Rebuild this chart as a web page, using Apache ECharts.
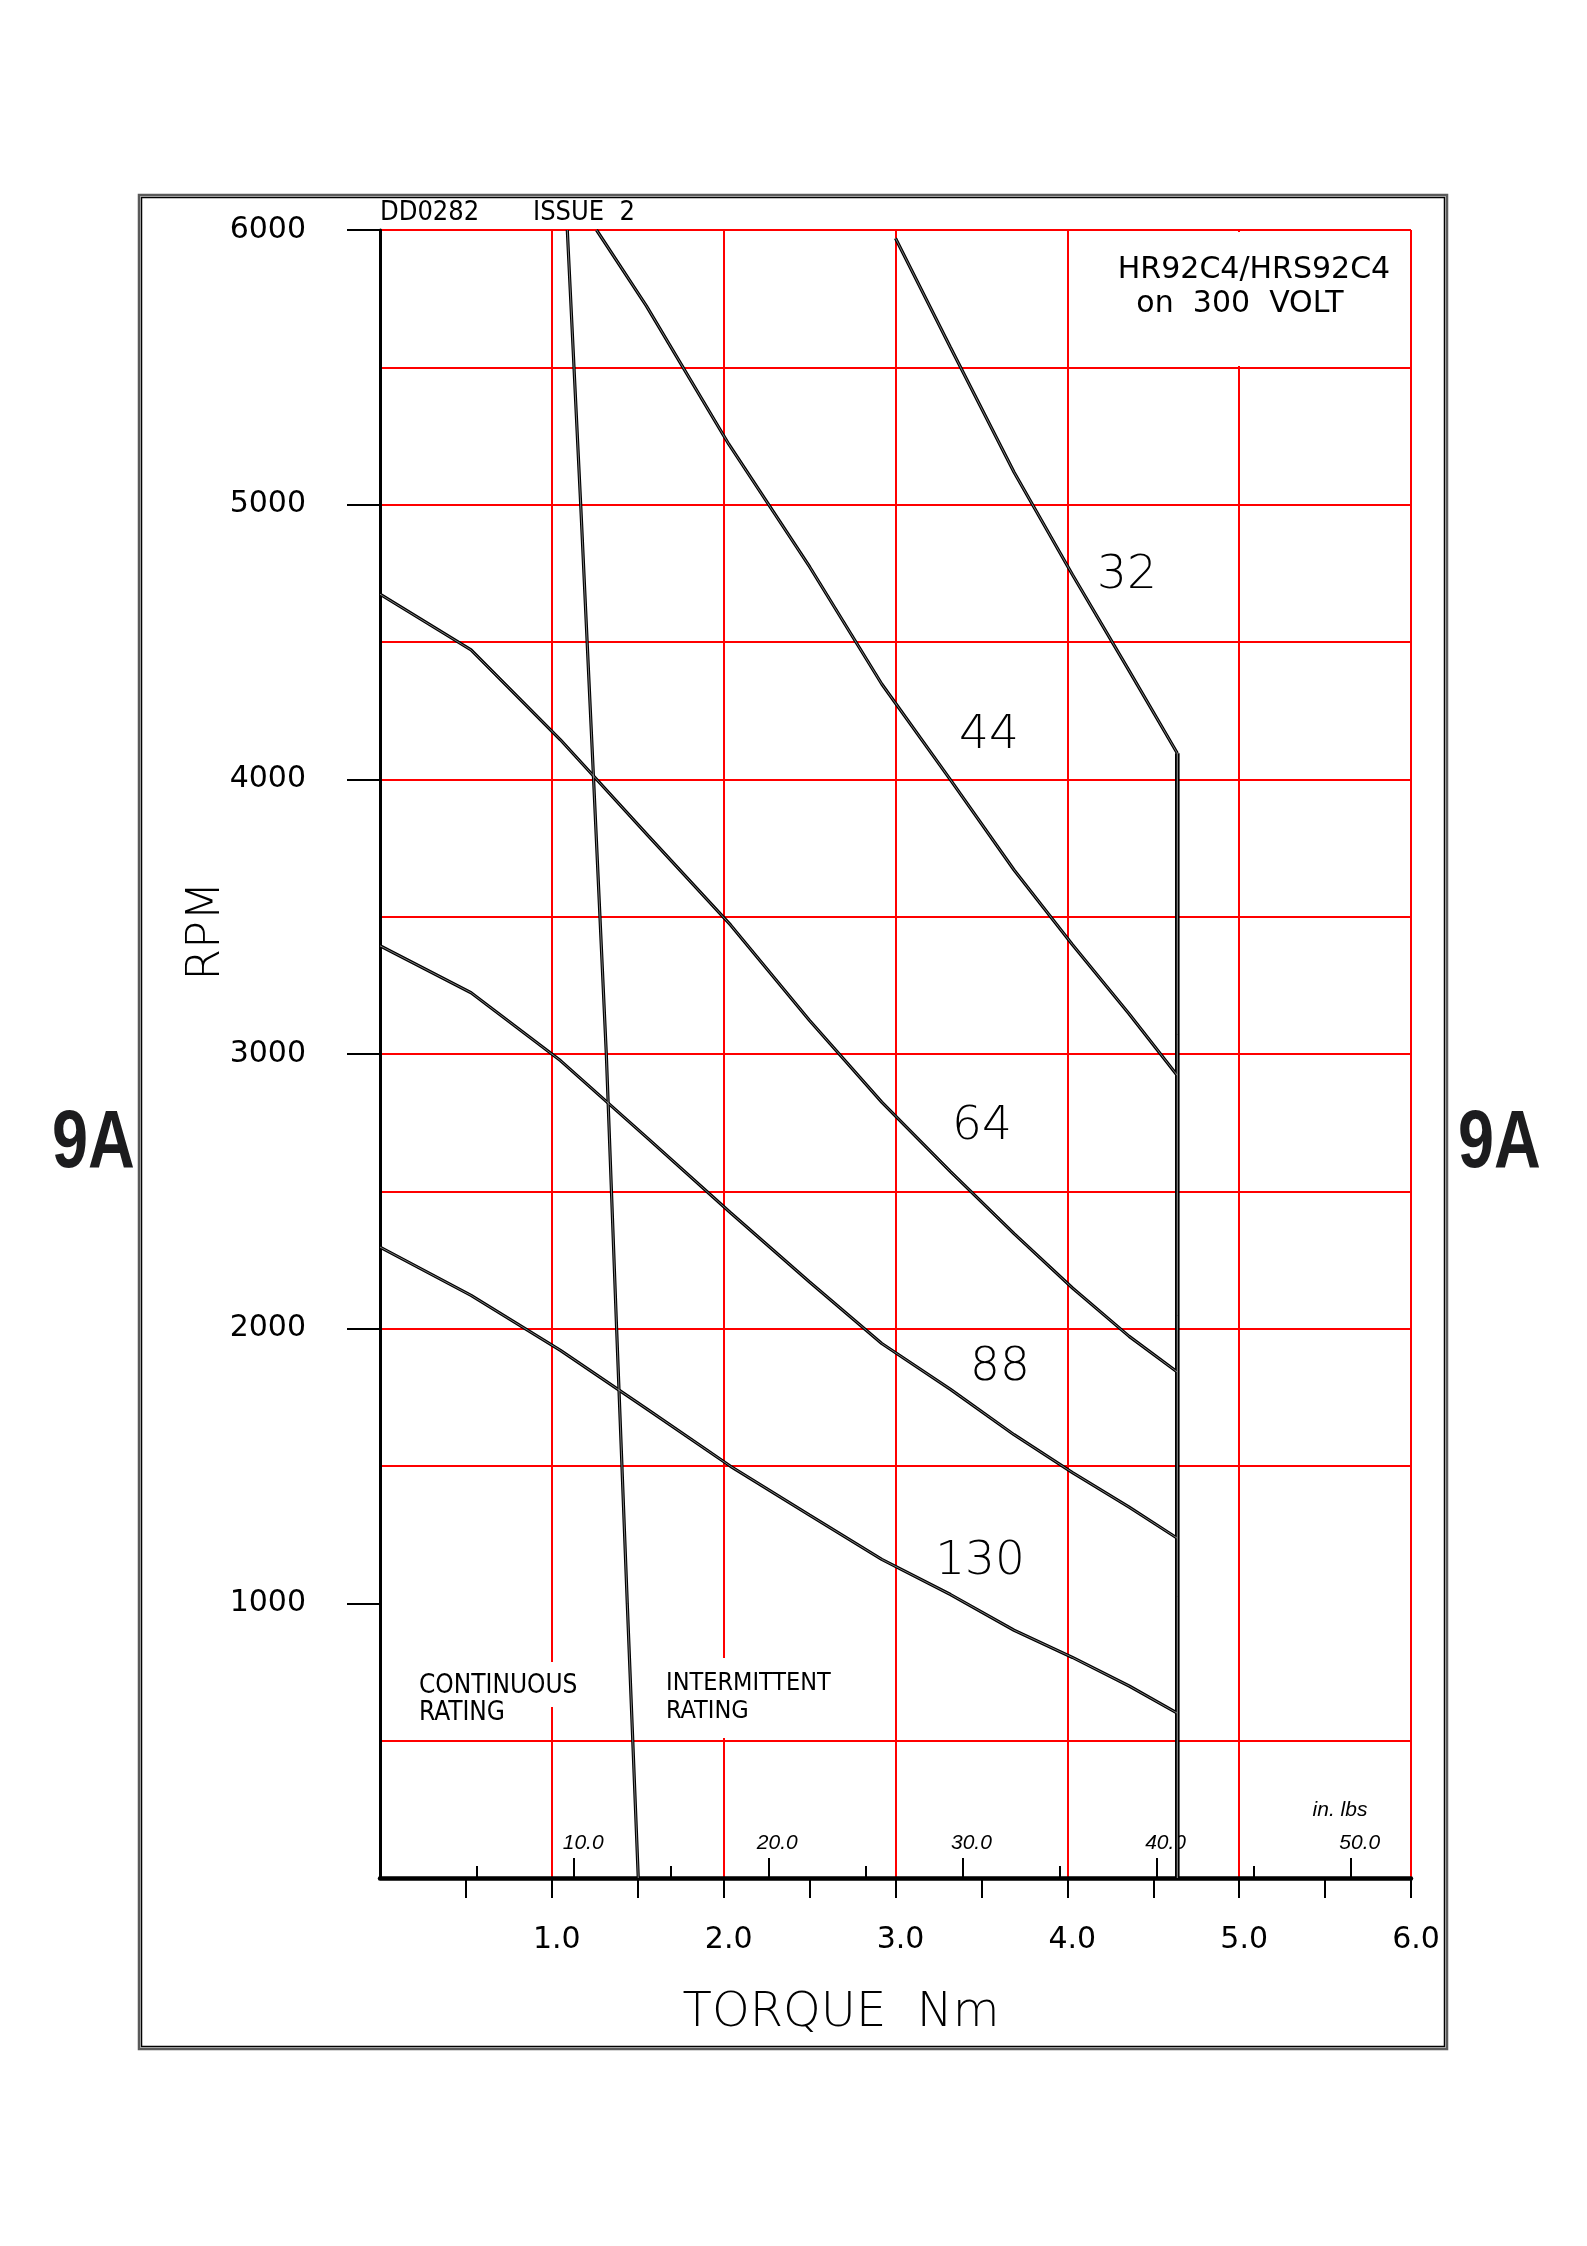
<!DOCTYPE html>
<html>
<head>
<meta charset="utf-8">
<script src="https://cdn.jsdelivr.net/npm/echarts@6/dist/echarts.min.js"></script>
<style>
html,body{margin:0;padding:0;background:#fff;}
#chart{width:1587px;height:2246px;}
</style>
</head>
<body>
<div id="chart"></div>
<script>
// ---- data (torque in Nm, speed in RPM) ----
const curve32Torque = [3.00, 3.32, 3.69, 4.03, 4.36, 4.64];
const curve32Rpm    = [5970, 5572, 5118, 4745, 4395, 4095];

const curve44Torque = [1.26, 1.55, 2.03, 2.50, 2.92, 3.32, 3.69, 4.03, 4.36, 4.64];
const curve44Rpm    = [6000, 5724, 5220, 4774, 4347, 3998, 3670, 3398, 3146, 2922];

const curve64Torque = [0, 0.53, 1.05, 1.56, 2.04, 2.50, 2.92, 3.32, 3.69, 4.03, 4.36, 4.64];
const curve64Rpm    = [4674, 4471, 4144, 3795, 3470, 3122, 2825, 2572, 2346, 2148, 1972, 1842];

const curve88Torque = [0, 0.53, 1.05, 1.56, 2.04, 2.50, 2.92, 3.32, 3.69, 4.03, 4.36, 4.64];
const curve88Rpm    = [3394, 3223, 2976, 2692, 2422, 2170, 1946, 1779, 1614, 1476, 1350, 1237];

const curve130Torque = [0, 0.53, 1.05, 1.55, 2.04, 2.50, 2.92, 3.32, 3.69, 4.03, 4.36, 4.64];
const curve130Rpm    = [2297, 2121, 1921, 1709, 1499, 1321, 1160, 1032, 902, 803, 699, 600];

const contTorque = [1.09, 1.168, 1.243, 1.317, 1.377, 1.439, 1.503];
const contRpm    = [6000, 5000, 4000, 3000, 2000, 1000, 0];

const limitTorque = [4.64, 4.64];
const limitRpm    = [4095, 0];

const curveLabels = ['32', '44', '64', '88', '130'];

// ---- axis ticks / labels ----
const nmTicks  = [0.5, 1.0, 1.5, 2.0, 2.5, 3.0, 3.5, 4.0, 4.5, 5.0, 5.5, 6.0];
const nmLabels = [1.0, 2.0, 3.0, 4.0, 5.0, 6.0];
const rpmTicks = [1000, 2000, 3000, 4000, 5000, 6000];
const rpmLabels = [1000, 2000, 3000, 4000, 5000, 6000];
const inlbMajor = [10, 20, 30, 40, 50];
const inlbMinor = [5, 15, 25, 35, 45];
const NM_TO_INLB = 8.8507;

const FONT = "'DejaVu Sans', sans-serif";
const FONT_C = "'DejaVu Sans Condensed', 'DejaVu Sans', sans-serif";
const RED = '#ff0000';

function pairs(xs, ys) { return xs.map((x, i) => [x, ys[i]]); }

function curveSeries(name, xs, ys, w, coreW) {
  const d = pairs(xs, ys);
  return [
    { name: name, type: 'line', data: d, symbol: 'none', z: 3,
      lineStyle: { color: '#000', width: w }, silent: true },
    { name: name + ' core', type: 'line', data: d, symbol: 'none', z: 4,
      lineStyle: { color: '#9a9a9a', width: coreW }, silent: true }
  ];
}

const series = [].concat(
  curveSeries('32', curve32Torque, curve32Rpm, 3.2, 0.8),
  curveSeries('44', curve44Torque, curve44Rpm, 3.2, 0.8),
  curveSeries('64', curve64Torque, curve64Rpm, 3.2, 0.8),
  curveSeries('88', curve88Torque, curve88Rpm, 3.2, 0.8),
  curveSeries('130', curve130Torque, curve130Rpm, 3.2, 0.8),
  curveSeries('continuous', contTorque, contRpm, 3.2, 0.8),
  curveSeries('limit', limitTorque, limitRpm, 4.6, 1)
);

const txt = (x, y, text, font, align, extra) => Object.assign({
  type: 'text', x: x, y: y, z: 10,
  style: { text: text, font: font, fill: '#000', textAlign: align || 'center', textVerticalAlign: 'middle' }
}, extra || {});

const graphics = [
  // outer frame (double line)
  { type: 'rect', z: 0, shape: { x: 139, y: 195, width: 1308, height: 1854 },
    style: { fill: null, stroke: '#5a5a5a', lineWidth: 2.5 } },
  { type: 'rect', z: 0, shape: { x: 141.5, y: 197.5, width: 1303, height: 1849 },
    style: { fill: null, stroke: '#000', lineWidth: 1.5 } },
  // gaps in red grid behind annotations
  { type: 'rect', z: 1, shape: { x: 544, y: 1662, width: 16, height: 45 }, style: { fill: '#fff' } },
  { type: 'rect', z: 1, shape: { x: 716, y: 1658, width: 16, height: 80 }, style: { fill: '#fff' } },
  { type: 'rect', z: 1, shape: { x: 1231, y: 232, width: 16, height: 134 }, style: { fill: '#fff' } },

  txt(380, 213, 'DD0282', "27px " + FONT_C, 'left'),
  txt(533, 213, 'ISSUE  2', "27px " + FONT_C, 'left'),
  txt(1254, 270, 'HR92C4/HRS92C4', "30px " + FONT),
  txt(1240, 304, 'on  300  VOLT', "30px " + FONT),

  txt(1127, 576, curveLabels[0], "200 47px " + FONT),
  txt(989, 736, curveLabels[1], "200 47px " + FONT),
  txt(982, 1127, curveLabels[2], "200 47px " + FONT),
  txt(1000, 1368, curveLabels[3], "200 47px " + FONT),
  txt(980, 1562, curveLabels[4], "200 47px " + FONT),

  txt(419, 1686, 'CONTINUOUS', "26px " + FONT_C, 'left'),
  txt(419, 1713, 'RATING', "26px " + FONT_C, 'left'),
  txt(666, 1683, 'INTERMITTENT', "25px " + FONT_C, 'left'),
  txt(666, 1711, 'RATING', "25px " + FONT_C, 'left'),

  txt(1340, 1810, 'in. lbs', "italic 21px 'Liberation Sans', sans-serif"),

  txt(841, 2014, 'TORQUE  Nm', "200 48px " + FONT),
  txt(207, 931, 'RPM', "200 46px " + FONT, 'center', { rotation: Math.PI / 2 }),

  { type: 'text', x: 52, y: 1145, z: 10, scaleX: 0.8,
    style: { text: '9A', font: "bold 81px 'Liberation Sans', Arial, sans-serif", fill: '#1c1c1e',
             textAlign: 'left', textVerticalAlign: 'middle' } },
  { type: 'text', x: 1458, y: 1145, z: 10, scaleX: 0.8,
    style: { text: '9A', font: "bold 81px 'Liberation Sans', Arial, sans-serif", fill: '#1c1c1e',
             textAlign: 'left', textVerticalAlign: 'middle' } }
];

const chart = echarts.init(document.getElementById('chart'), null, { renderer: 'canvas' });

chart.setOption({
  animation: false,
  backgroundColor: '#fff',
  grid: { left: 380, top: 230, width: 1031, height: 1648, outerBoundsMode: 'none', containLabel: false },
  xAxis: [
    { // grid lines every 1 Nm
      type: 'value', min: 0, max: 6, interval: 1, position: 'bottom',
      axisLine: { show: false }, axisTick: { show: false }, axisLabel: { show: false },
      splitLine: { show: true, showMinLine: false, lineStyle: { color: RED, width: 2 } }
    },
    { // main torque axis
      type: 'value', min: 0, max: 6, interval: 1, position: 'bottom',
      axisLine: { show: true, onZero: false, lineStyle: { color: '#000', width: 4.5 } },
      axisTick: { show: true, customValues: nmTicks, length: 20, lineStyle: { color: '#000', width: 2 } },
      axisLabel: { show: true, customValues: nmLabels, formatter: v => Number(v).toFixed(1),
                   margin: 47, fontSize: 30, fontFamily: FONT, color: '#000', padding: [0, 0, 0, 10] },
      splitLine: { show: false }
    },
    { // in. lbs major
      type: 'value', min: 0, max: 6 * NM_TO_INLB, position: 'bottom',
      axisLine: { show: false },
      axisTick: { show: true, inside: true, customValues: inlbMajor, length: 20, lineStyle: { color: '#000', width: 2 } },
      axisLabel: { show: true, inside: true, customValues: inlbMajor, formatter: v => Number(v).toFixed(1),
                   margin: 24, fontSize: 21, fontStyle: 'italic', fontFamily: "'Liberation Sans', sans-serif",
                   color: '#000', padding: [0, 0, 0, 18] },
      splitLine: { show: false }
    },
    { // in. lbs minor
      type: 'value', min: 0, max: 6 * NM_TO_INLB, position: 'bottom',
      axisLine: { show: false },
      axisTick: { show: true, inside: true, customValues: inlbMinor, length: 12, lineStyle: { color: '#000', width: 2 } },
      axisLabel: { show: false },
      splitLine: { show: false }
    }
  ],
  yAxis: {
    type: 'value', min: 0, max: 6000, interval: 1000,
    axisLine: { show: true, onZero: false, lineStyle: { color: '#000', width: 3 } },
    axisTick: { show: true, customValues: rpmTicks, length: 33, lineStyle: { color: '#000', width: 2 } },
    axisLabel: { show: true, customValues: rpmLabels, formatter: v => String(v),
                 margin: 74, fontSize: 30, fontFamily: FONT, color: '#000', padding: [14, 0, 0, 0] },
    splitLine: { show: true, showMinLine: false, lineStyle: { color: RED, width: 2 } },
    minorTick: { show: false, splitNumber: 2 },
    minorSplitLine: { show: true, lineStyle: { color: RED, width: 2 } }
  },
  series: series,
  graphic: { elements: graphics }
});
</script>
</body>
</html>
